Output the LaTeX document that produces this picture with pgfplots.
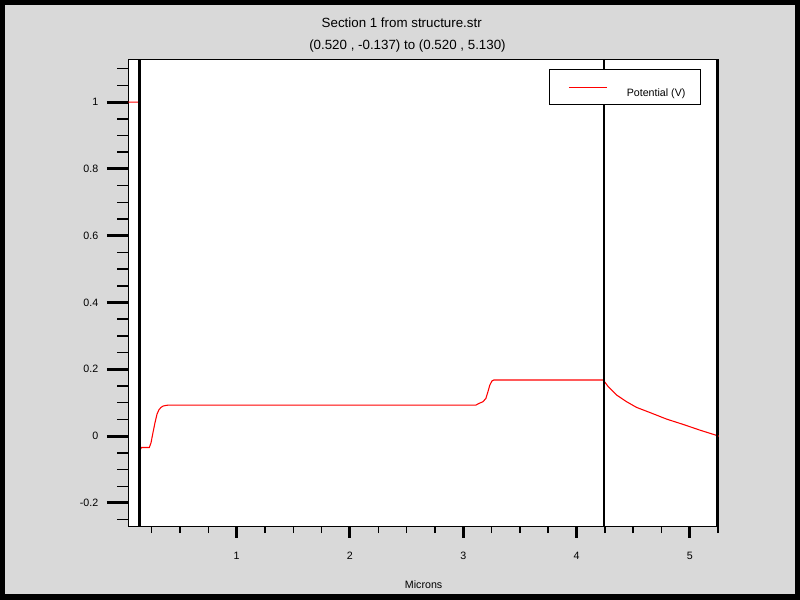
\documentclass[border=0pt]{standalone}
\usepackage{pgfplots}
\pgfplotsset{compat=1.18}
\usepackage{fontspec}
\setmainfont{Liberation Sans}
\definecolor{bg}{RGB}{217,217,217}
\begin{document}
\begin{tikzpicture}
\fill[black] (0,0) rectangle (600pt,450pt);
\fill[bg] (3.75pt,4.5pt) rectangle (596.25pt,446.25pt);
\pgfplotsset{base/.style={scale only axis, width=443pt, height=350.25pt,
  at={(96.2pt,54.75pt)}, anchor=south west,
  xmin=0.0432, xmax=5.257, ymin=-0.272, ymax=1.126,
  tick align=outside, tick pos=left,
  /pgf/number format/assume math mode=true,
  ticklabel style={font=\fontsize{8}{9.6}\selectfont, text=black}}}
\begin{axis}[base, axis line style={line width=0.75pt},
  axis background/.style={fill=white},
  xtick=\empty,
  ytick={-0.2,0,0.2,0.4,0.6,0.8,1},
  yticklabels={-0.2,0,0.2,0.4,0.6,0.8,1},
  yticklabel style={xshift=-3pt},
  minor ytick={-0.25,-0.15,-0.1,-0.05,0.05,0.1,0.15,0.25,0.3,0.35,0.45,0.5,0.55,0.65,0.7,0.75,0.85,0.9,0.95,1.05,1.1},
  major tick length=16pt, minor tick length=8.25pt,
  major tick style={line width=2.25pt, black},
  minor tick style={line width=1.1pt, black},
  legend style={at={(rel axis cs:0.969,0.980)}, anchor=north east,
    draw, line width=0.75pt, inner sep=0pt, fill=white, text=black,
    nodes={inner sep=0pt},
    cells={anchor=base west},
    font=\fontsize{8}{9.6}\selectfont},
  legend image code/.code={
    \path[draw=none, fill=none] (-14.25pt,-6.2pt) rectangle (43.5pt,19.8pt);
    \pgfsetstrokecolor{red}
    \draw[red, draw=red, line width=0.75pt] (0pt,6.75pt) -- (28.5pt,6.75pt);},
]
\addplot[red, line width=0.8pt] coordinates {
(0.0432,1) (0.140,1) (0.141,-0.055) (0.150,-0.040) (0.160,-0.034)
(0.229,-0.034) (0.244,-0.020) (0.261,0.010) (0.279,0.040) (0.297,0.066)
(0.314,0.079) (0.332,0.086) (0.350,0.090) (0.377,0.092) (0.400,0.093)
(3.112,0.093) (3.139,0.098) (3.174,0.103) (3.200,0.113) (3.218,0.133)
(3.235,0.153) (3.253,0.165) (3.270,0.168) (4.236,0.168) (4.280,0.148)
(4.354,0.123) (4.442,0.103) (4.530,0.086) (4.653,0.070) (4.795,0.051)
(4.942,0.035) (5.089,0.018) (5.257,0.000)};
\addlegendentry{Potential (V)\rule{11pt}{0pt}}
\addplot[black, line width=2.25pt, forget plot] coordinates {(0.142,-0.3) (0.142,1.2)};
\addplot[black, line width=1.5pt, forget plot] coordinates {(4.242,-0.3) (4.242,1.2)};
\addplot[black, line width=1.5pt, forget plot] coordinates {(5.239,-0.3) (5.239,1.2)};
\end{axis}
\begin{axis}[base, axis line style={draw=none},
  ytick=\empty,
  xtick={1,2,3,4,5},
  xticklabels={1,2,3,4,5},
  xticklabel style={yshift=-7.5pt},
  minor xtick={0.25,0.5,0.75,1.25,1.5,1.75,2.25,2.5,2.75,3.25,3.5,3.75,4.25,4.5,4.75,5.25},
  major tick length=8pt, minor tick length=4.5pt,
  major tick style={line width=2.25pt, black},
  minor tick style={line width=1.1pt, black},
  xlabel={Microns},
  xlabel style={at={(rel axis cs:0.5,0)}, anchor=base, yshift=-45.75pt,
    font=\fontsize{8}{9.6}\selectfont},
]
\end{axis}
\node[anchor=base, font=\fontsize{10}{12}\selectfont] at (301.3pt,429.2pt) {Section 1 from structure.str};
\node[anchor=base, font=\fontsize{10}{12}\selectfont] at (305.6pt,413pt) {(0.520 , -0.137) to (0.520 , 5.130)};
\end{tikzpicture}
\end{document}
